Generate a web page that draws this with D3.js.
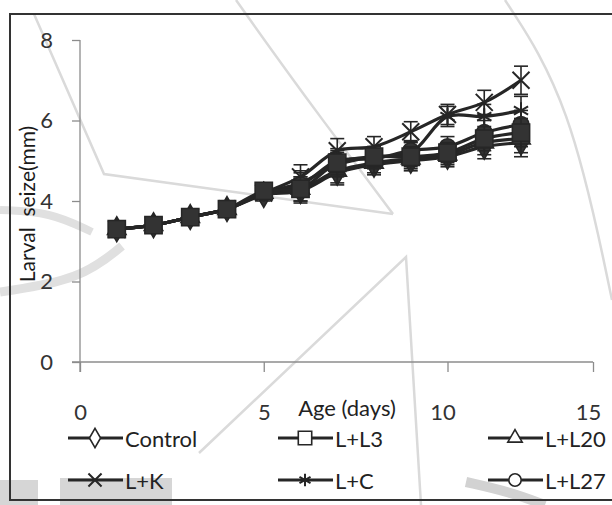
<!DOCTYPE html>
<html>
<head>
<meta charset="utf-8">
<script src="https://cdn.jsdelivr.net/npm/d3@7"></script>
<style>
  html, body { margin: 0; padding: 0; background: #fff; }
  svg { display: block; }
</style>
</head>
<body>
<svg id="chart" width="612" height="505"></svg>
<script>
// Larval size (mm) by age (days) for six treatments
const days = [1, 2, 3, 4, 5, 6, 7, 8, 9, 10, 11, 12];
const control = [3.3, 3.4, 3.6, 3.8, 4.15, 4.25, 4.7, 4.9, 5.0, 5.1, 5.35, 5.45];
const lL3     = [3.3, 3.4, 3.6, 3.8, 4.25, 4.3, 4.95, 5.1, 5.1, 5.2, 5.55, 5.7];
const lL20    = [3.3, 3.4, 3.6, 3.8, 4.2, 4.3, 4.75, 4.95, 5.05, 5.15, 5.45, 5.55];
const lK      = [3.3, 3.4, 3.6, 3.8, 4.2, 4.6, 5.25, 5.35, 5.72, 6.15, 6.45, 7.0];
const lC      = [3.3, 3.4, 3.6, 3.8, 4.2, 4.45, 4.9, 5.1, 5.2, 6.1, 6.1, 6.25];
const lL27    = [3.3, 3.4, 3.6, 3.8, 4.2, 4.4, 5.0, 5.05, 5.25, 5.35, 5.7, 5.9];
// standard error per day
const errors  = [0.05, 0.05, 0.05, 0.08, 0.15, 0.3, 0.3, 0.25, 0.25, 0.25, 0.3, 0.35];

const seriesNames = ["Control", "L+L3", "L+L20", "L+K", "L+C", "L+L27"];
const xTicks = [0, 5, 10, 15];
const yTicks = [0, 2, 4, 6, 8];

const series = [
  { name: seriesNames[0], values: control, symbol: d3.symbolDiamond, size: 180 },
  { name: seriesNames[1], values: lL3,     symbol: d3.symbolSquare,  size: 300 },
  { name: seriesNames[2], values: lL20,    symbol: d3.symbolTriangle, size: 150 },
  { name: seriesNames[3], values: lK,      symbol: d3.symbolTimes,   size: 190 },
  { name: seriesNames[4], values: lC,      symbol: d3.symbolAsterisk, size: 190 },
  { name: seriesNames[5], values: lL27,    symbol: d3.symbolCircle,  size: 200 }
];
const strokeSymbols = new Set([d3.symbolTimes, d3.symbolAsterisk]);

const ink = "#262626";
const axisGrey = "#8c8c8c";
const font = "Lato, 'Open Sans', sans-serif";

const svg = d3.select("#chart");

// faint backdrop ornaments
const ornament = svg.append("g").attr("fill", "none").attr("stroke", "#dadada");
const curve = d3.line().curve(d3.curveBasis);
ornament.append("path").attr("stroke-width", 2.5)
  .attr("d", d3.line()([[34, 14], [104, 174], [393, 214]]));
ornament.append("path").attr("stroke-width", 2.5)
  .attr("d", curve([[236, 0], [300, 90], [393, 214]]));
ornament.append("path").attr("stroke-width", 2.5)
  .attr("d", curve([[505, 0], [570, 100], [612, 300]]));
ornament.append("path").attr("stroke-width", 2.5)
  .attr("d", d3.line()([[199, 453], [406, 257], [421, 505]]));
ornament.append("path").attr("stroke-width", 8).attr("stroke", "#e0e0e0")
  .attr("d", curve([[0, 210], [50, 212], [92, 232]]));
ornament.append("path").attr("stroke-width", 9).attr("stroke", "#e0e0e0")
  .attr("d", curve([[0, 292], [80, 280], [122, 246]]));
ornament.append("rect").attr("x", 0).attr("y", 480).attr("width", 38).attr("height", 25)
  .attr("fill", "#d6d6d6").attr("stroke", "none");
ornament.append("rect").attr("x", 60).attr("y", 478).attr("width", 112).attr("height", 27)
  .attr("fill", "#d6d6d6").attr("stroke", "none");
ornament.append("path").attr("stroke-width", 10).attr("stroke", "#d2d2d2")
  .attr("d", curve([[466, 482], [510, 492], [545, 505]]));

// outer frame
svg.append("rect")
  .attr("x", 10).attr("y", 14).attr("width", 620).attr("height", 486)
  .attr("fill", "none").attr("stroke", "#333").attr("stroke-width", 2);

const x = d3.scaleLinear().domain([0, 12, 15]).range([80, 521, 593]);
const y = d3.scaleLinear().domain([0, 8]).range([362, 40]);

// axes
const xAxis = svg.append("g")
  .attr("transform", `translate(0,${y(0)})`)
  .call(d3.axisBottom(x).tickValues(xTicks).tickSize(10).tickPadding(32).tickSizeOuter(0));
const yAxis = svg.append("g")
  .attr("transform", `translate(${x(0)},0)`)
  .call(d3.axisLeft(y).tickValues(yTicks).tickSize(8).tickPadding(19).tickSizeOuter(0));
// x axis line starts a little left of the y axis
xAxis.select(".domain").attr("d", `M${x(0) - 8},0H${x(15)}`);
yAxis.select(".domain").attr("d", `M0,${y(8)}V${y(0) + 10}`);
[xAxis, yAxis].forEach(g => {
  g.selectAll(".domain, .tick line").attr("stroke", axisGrey).attr("stroke-width", 1.3);
  g.selectAll(".tick text")
    .attr("fill", "#333").attr("font-family", font).attr("font-size", 22);
});
xAxis.selectAll(".tick text").attr("dx", d => d >= 10 ? -5 : 0);

// axis titles
svg.append("text")
  .attr("x", 347).attr("y", 407)
  .attr("text-anchor", "middle").attr("dominant-baseline", "central")
  .attr("font-family", font).attr("font-size", 22).attr("fill", "#222")
  .text("Age (days)");
svg.append("text")
  .attr("transform", `translate(26,${204}) rotate(-90)`)
  .attr("text-anchor", "middle").attr("dominant-baseline", "central")
  .attr("font-family", font).attr("font-size", 21).attr("fill", "#1a1a1a")
  .style("white-space", "pre")
  .text("Larval  seize(mm)");

// series
const path = d3.line()
  .x((d, i) => x(days[i]))
  .y(d => y(d))
  .curve(d3.curveCatmullRom.alpha(0.5));

// draw the square series last so its markers sit on top
const drawOrder = [0, 2, 3, 4, 5, 1];
const plot = svg.append("g");
drawOrder.map(k => series[k]).forEach(s => {
  const g = plot.append("g");
  g.append("path")
    .attr("d", path(s.values))
    .attr("fill", "none").attr("stroke", ink).attr("stroke-width", 3.2);

  const bars = g.selectAll("g.err").data(s.values).join("g").attr("class", "err");
  bars.append("line")
    .attr("x1", (d, i) => x(days[i])).attr("x2", (d, i) => x(days[i]))
    .attr("y1", (d, i) => y(d + errors[i])).attr("y2", (d, i) => y(d - errors[i]));
  bars.append("line")
    .attr("x1", (d, i) => x(days[i]) - 7).attr("x2", (d, i) => x(days[i]) + 7)
    .attr("y1", (d, i) => y(d + errors[i])).attr("y2", (d, i) => y(d + errors[i]));
  bars.append("line")
    .attr("x1", (d, i) => x(days[i]) - 7).attr("x2", (d, i) => x(days[i]) + 7)
    .attr("y1", (d, i) => y(d - errors[i])).attr("y2", (d, i) => y(d - errors[i]));
  bars.selectAll("line").attr("stroke", ink).attr("stroke-width", 1.6);

  const isStroke = strokeSymbols.has(s.symbol);
  g.selectAll("path.mark").data(s.values).join("path").attr("class", "mark")
    .attr("transform", (d, i) => `translate(${x(days[i])},${y(d)})`)
    .attr("d", d3.symbol(s.symbol, s.size))
    .attr("fill", isStroke ? "none" : "#333")
    .attr("stroke", ink).attr("stroke-width", isStroke ? 2 : 1.5);
});

// legend
const legendCols = [68, 278, 488];
const legendRows = [438, 480];
const legend = svg.append("g");
series.forEach((s, k) => {
  const lx = legendCols[k % 3];
  const ly = legendRows[Math.floor(k / 3)];
  const g = legend.append("g").attr("transform", `translate(${lx},${ly})`);
  g.append("line").attr("x1", 0).attr("x2", 55).attr("y1", 0).attr("y2", 0)
    .attr("stroke", ink).attr("stroke-width", 3.2);
  const isStroke = strokeSymbols.has(s.symbol);
  g.append("path")
    .attr("transform", "translate(27,0)")
    .attr("d", d3.symbol(s.symbol, s.size * 0.6))
    .attr("fill", isStroke ? "none" : "#fff")
    .attr("stroke", ink).attr("stroke-width", isStroke ? 2 : 1.6);
  g.append("text")
    .attr("x", 57).attr("y", 0).attr("dominant-baseline", "central")
    .attr("font-family", font).attr("font-size", 22).attr("fill", "#222")
    .text(s.name);
});
</script>
</body>
</html>
